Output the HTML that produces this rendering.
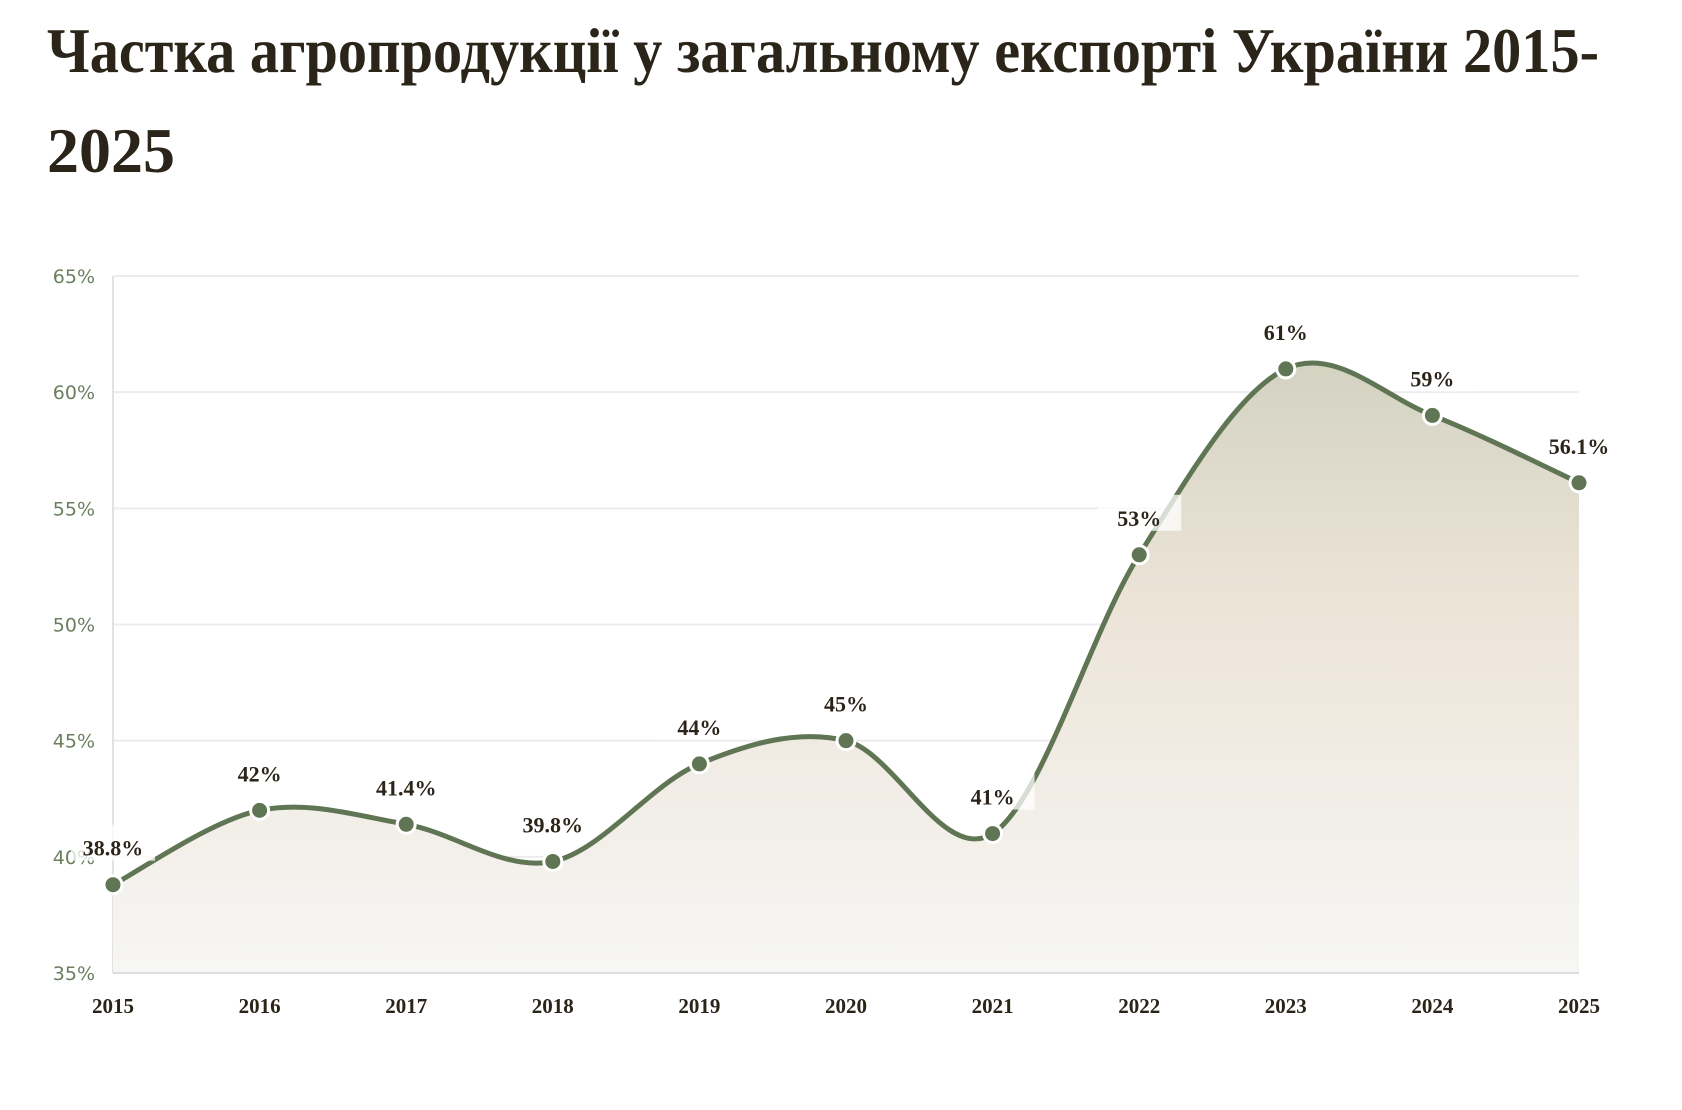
<!DOCTYPE html>
<html><head><meta charset="utf-8"><style>
html,body{margin:0;padding:0;background:#fff;width:1682px;height:1110px;overflow:hidden}
</style></head><body>
<svg id="s" width="1682" height="1110" xmlns="http://www.w3.org/2000/svg" font-family="Liberation Serif, serif">
<defs>
<linearGradient id="g" x1="0" y1="0" x2="0" y2="1">
<stop offset="0" stop-color="#d3d3c2"/>
<stop offset="0.4" stop-color="#ede4d8"/>
<stop offset="1" stop-color="#f6f6f4"/>
</linearGradient>
</defs>
<text x="47" y="72" font-size="64" font-weight="bold" fill="#2a2419" textLength="1552" lengthAdjust="spacingAndGlyphs">Частка агропродукції у загальному експорті України 2015-</text>
<text x="47" y="172" font-size="64" font-weight="bold" fill="#2a2419">2025</text>
<g id="plot"></g>
</svg>
<script>
var X0=113,X1=1579,Y35=973,Y65=276;
function yv(v){return Y35-(v-35)*(Y35-Y65)/30;}
var vals=[38.8,42,41.4,39.8,44,45,41,53,61,59,56.1];
var labs=["38.8%","42%","41.4%","39.8%","44%","45%","41%","53%","61%","59%","56.1%"];
var pts=vals.map(function(v,i){return [X0+i*(X1-X0)/10,yv(v)];});
var h='';
for(var v=35;v<=65;v+=5){var y=yv(v);
 h+='<line x1="'+X0+'" x2="'+X1+'" y1="'+y+'" y2="'+y+'" stroke="#ececec" stroke-width="2"/>';
 h+='<text x="95" y="'+(y+7)+'" font-family="DejaVu Sans, sans-serif" font-size="19" fill="#6b7f5f" text-anchor="end">'+v+'%</text>';}
h+='<line x1="'+X0+'" x2="'+X0+'" y1="'+Y65+'" y2="'+Y35+'" stroke="#e2e2e2" stroke-width="2"/>';
var d='M'+pts[0][0]+','+pts[0][1];
for(var i=0;i<pts.length-1;i++){
 var p0=pts[Math.max(i-1,0)],p1=pts[i],p2=pts[i+1],p3=pts[Math.min(i+2,pts.length-1)];
 var c1=[p1[0]+(p2[0]-p0[0])/6,p1[1]+(p2[1]-p0[1])/6],c2=[p2[0]-(p3[0]-p1[0])/6,p2[1]-(p3[1]-p1[1])/6];
 d+=' C'+c1[0]+','+c1[1]+' '+c2[0]+','+c2[1]+' '+p2[0]+','+p2[1];}
h+='<path d="'+d+' L'+X1+','+Y35+' L'+X0+','+Y35+'Z" fill="url(#g)"/>';
h+='<line x1="'+X0+'" x2="'+X1+'" y1="'+Y35+'" y2="'+Y35+'" stroke="#dcdcdc" stroke-width="2"/>';
h+='<path d="'+d+'" fill="none" stroke="#5f7553" stroke-width="5"/>';
pts.forEach(function(p,i){
 h+='<rect x="'+(p[0]-42)+'" y="'+(p[1]-60)+'" width="84" height="36" fill="#fff" opacity="0.75"/>';
 h+='<circle cx="'+p[0]+'" cy="'+p[1]+'" r="9" fill="#5f7553" stroke="#fff" stroke-width="3"/>';
 h+='<text x="'+p[0]+'" y="'+(p[1]-29)+'" font-size="22" font-weight="bold" fill="#2a2419" text-anchor="middle">'+labs[i]+'</text>';
 h+='<text x="'+p[0]+'" y="1013" font-size="21" font-weight="bold" fill="#2a2419" text-anchor="middle">'+(2015+i)+'</text>';
});
document.getElementById('plot').innerHTML=h;
</script>
</body></html>
